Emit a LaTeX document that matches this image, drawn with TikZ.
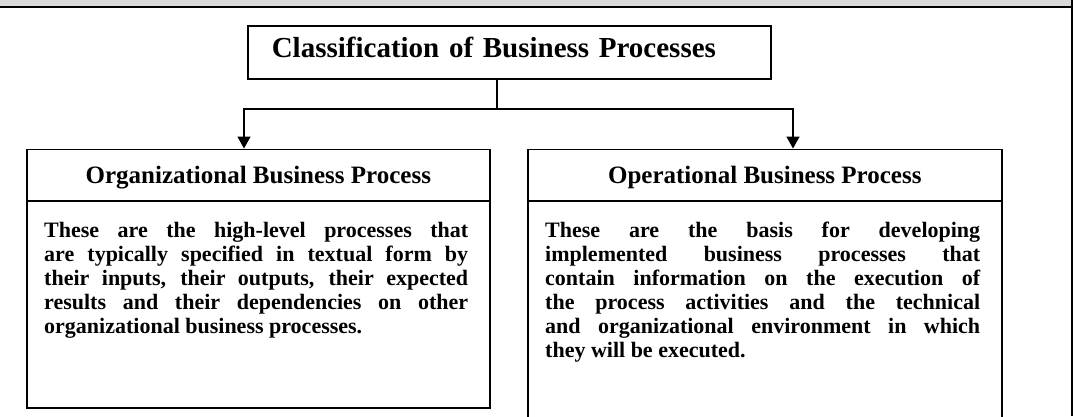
\documentclass[tikz,border=0pt]{standalone}
\usepackage{fontspec}
\setmainfont{Liberation Serif}
\usetikzlibrary{arrows.meta}
\definecolor{band}{HTML}{D9D9D9}
\tolerance=10000
\hbadness=10000
\begin{document}
\begin{tikzpicture}[x=1pt,y=-1pt,
  box/.style={draw, rectangle, line width=1.6pt, inner sep=0pt, anchor=north west},
  titlebox/.style={box, font=\fontsize{29}{34}\selectfont\bfseries, text width=475pt, align=left, inner xsep=24pt, minimum height=53pt, text height=20pt, text depth=9pt},
  headbox/.style={box, font=\fontsize{25}{30}\selectfont\bfseries, minimum height=51.5pt, text height=16.5pt, text depth=0pt},
  bodytext/.style={font=\fontsize{22}{24}\selectfont\bfseries, align=justify, anchor=base west, inner sep=0pt,
    execute at begin node={\setlength{\baselineskip}{24pt}}},
  conn/.style={line width=1.6pt},
  arr/.style={conn, -{Triangle[length=12pt,width=13pt]}}]
\useasboundingbox (0,0) rectangle (1073,416);
\clip (0,0) rectangle (1073,416);
% outer frame
\fill[band] (0,0) rectangle (1071,5.7);
\fill[black] (0,5.7) rectangle (1073,7.7);
\fill[black] (1071,0) rectangle (1073,416);
% title
\node[titlebox] (title) at (247,25) {Classification of Business Processes};
% headers
\node[headbox, minimum width=463pt] (lhead) at (26,148.5) {Organizational Business Process};
\node[headbox, minimum width=474pt] (rhead) at (527,148.5) {Operational Business Process};
% bodies
\node[box, minimum width=463pt, minimum height=207pt] (lbody) at (26,200) {};
\node[box, minimum width=474pt, minimum height=240pt] (rbody) at (527,200) {};
\node[bodytext, text width=424pt] (ltext) at (44,237) {These are the high-level processes that\linebreak
are typically specified in textual form by\linebreak
their inputs, their outputs, their expected\linebreak
results and their dependencies on other\linebreak
organizational business processes.};
\node[bodytext, text width=435pt] (rtext) at (545,237) {These are the basis for developing\linebreak
implemented business processes that\linebreak
contain information on the execution of\linebreak
the process activities and the technical\linebreak
and organizational environment in which\linebreak
they will be executed.};
% connectors
\coordinate (j) at (497,109);
\coordinate (la) at (244,109);
\coordinate (ra) at (793,109);
\draw[conn] (title.south -| j) -- (j);
\draw[arr] (j) -| (lhead.north -| la);
\draw[arr] (j) -| (rhead.north -| ra);
\end{tikzpicture}
\end{document}
